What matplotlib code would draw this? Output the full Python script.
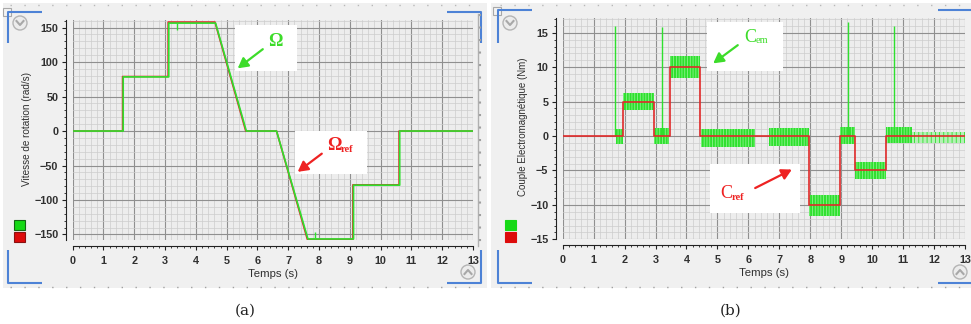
import matplotlib
matplotlib.use('Agg')
import matplotlib.pyplot as plt
from matplotlib.patches import Rectangle, Circle, FancyArrowPatch
from matplotlib.ticker import MultipleLocator

# ---------------- data ----------------
time_ticks = list(range(0, 14))
omega_yticks = [-150, -100, -50, 0, 50, 100, 150]
torque_yticks = [-15, -10, -5, 0, 5, 10, 15]

# Panel (a): speed reference and measured speed (breakpoints)
omega_ref_t = [0, 1.62, 1.62, 3.10, 3.10, 4.62, 5.62, 6.62, 7.62, 9.10, 9.10, 10.60, 10.60, 13.0]
omega_ref_v = [0, 0, 79, 79, 158, 158, 0, 0, -157, -157, -78, -78, 0, 0]
omega_meas_t = [0, 1.64, 1.64, 3.12, 3.12, 4.64, 5.64, 6.62, 7.64, 9.12, 9.12, 10.62, 10.62, 13.0]
omega_meas_v = [0, 0, 78.5, 78.5, 156.5, 156.5, 0, 0, -156.5, -156.5, -78.5, -78.5, 0, 0]
omega_spike_t = [3.38, 7.87]
omega_spike_from = [156.5, -156.5]
omega_spike_to = [146, -146]

# Panel (b): torque reference (steps) and electromagnetic torque (ripple bands)
cref_t = [0, 1.95, 2.95, 3.47, 4.45, 7.96, 8.96, 9.45, 10.45, 13.0]
cref_v = [0, 5, 0, 10, 0, -10, 0, -5, 0, 0]
cem_start = [1.72, 1.95, 2.95, 3.47, 4.47, 6.68, 7.96, 8.96, 9.45, 10.45]
cem_end = [1.95, 2.95, 3.45, 4.45, 6.22, 7.96, 8.96, 9.45, 10.45, 11.3]
cem_low = [-1.15, 3.8, -1.2, 8.5, -1.55, -1.5, -11.6, -1.15, -6.3, -1.0]
cem_high = [1.0, 6.2, 1.1, 11.6, 1.0, 1.1, -8.6, 1.35, -3.7, 1.35]
cem_tail_start, cem_tail_end = 11.3, 13.0
cem_tail_low, cem_tail_high = -1.0, 0.6
cem_spike_t = [1.70, 3.20, 9.21, 10.72]
cem_spike_top = [16.0, 15.9, 16.6, 16.0]

# ---------------- figure ----------------
W, H = 971, 324
plt.rcParams['font.family'] = ['Liberation Sans', 'DejaVu Sans']
plt.rcParams['hatch.linewidth'] = 0.6
fig = plt.figure(figsize=(W / 100, H / 100), dpi=100)
fig.patch.set_facecolor('white')

GREEN = '#2ee02e'
RED = '#e02a2a'
BLUE = '#4d82d6'
TXT = '#303030'


def rect(x0, y0, x1, y1):
    return [x0 / W, 1 - y1 / H, (x1 - x0) / W, (y1 - y0) / H]


# background layer
bg = fig.add_axes([0, 0, 1, 1], zorder=0)
bg.set_xlim(0, W)
bg.set_ylim(H, 0)
bg.axis('off')
bg.add_patch(Rectangle((3, 3), 484, 285, fc='#f0f0f0', ec='none'))
bg.add_patch(Rectangle((491, 3), 480, 285, fc='#f0f0f0', ec='none'))


def style_axes(ax, xlim, ylim, ymaj, ymin):
    ax.set_facecolor('#ededed')
    ax.set_xlim(*xlim)
    ax.set_ylim(*ylim)
    ax.set_xticks(time_ticks)
    ax.xaxis.set_minor_locator(MultipleLocator(0.2))
    ax.yaxis.set_major_locator(MultipleLocator(ymaj))
    ax.yaxis.set_minor_locator(MultipleLocator(ymin))
    ax.grid(which='major', color='#8f8f8f', lw=0.8)
    ax.grid(which='minor', color='#cdcdcd', lw=0.5)
    ax.set_axisbelow(True)
    for s in ['top', 'right']:
        ax.spines[s].set_visible(False)
    ax.spines['left'].set_position(('outward', 4.6))
    ax.spines['bottom'].set_position(('outward', 4.2))
    ax.spines['left'].set_color('#222222')
    ax.spines['bottom'].set_color('#222222')
    ax.tick_params(which='major', length=3.2, width=0.8, color='#222222',
                   labelsize=8.5, labelcolor=TXT, pad=2.5)
    ax.tick_params(which='minor', length=1.6, width=0.6, color='#222222')
    ax.tick_params(axis='x', which='major', pad=4)
    for lab in ax.get_xticklabels() + ax.get_yticklabels():
        lab.set_fontweight('bold')
        lab.set_fontsize(7.8)


# ---------------- panel (a) ----------------
axa = fig.add_axes(rect(72.7, 20, 473, 240), zorder=1)
axa.set_yticks(omega_yticks)
style_axes(axa, (0, 13), (-158, 161), 50, 10)
axa.plot(omega_ref_t, omega_ref_v, color=RED, lw=1.2, zorder=3)
axa.plot(omega_meas_t, omega_meas_v, color=GREEN, lw=1.2, zorder=4)
axa.vlines(omega_spike_t, omega_spike_from, omega_spike_to, color=GREEN, lw=1.0, zorder=4)

# ---------------- panel (b) ----------------
axb = fig.add_axes(rect(562.7, 18.3, 965, 239.3), zorder=1)
axb.set_yticks(torque_yticks)
style_axes(axb, (0, 13), (-15, 17.1), 5, 1)
for s, e, lo, hi in zip(cem_start, cem_end, cem_low, cem_high):
    axb.fill_between([s, e], [lo, lo], [hi, hi], facecolor=GREEN,
                     edgecolor='#8cf28c', hatch='||||||', lw=0, zorder=3)
axb.fill_between([cem_tail_start, cem_tail_end], [cem_tail_low] * 2, [cem_tail_high] * 2,
                 facecolor='#b5f0b5', edgecolor=GREEN, hatch='||||', lw=0, zorder=3)
axb.vlines(cem_spike_t, 0, cem_spike_top, color=GREEN, lw=1.0, zorder=4)
axb.step(cref_t, cref_v, where='post', color=RED, lw=1.2, zorder=5)

# ---------------- labels ----------------
fig.text(27 / W, 1 - 129 / H, 'Vitesse de rotation (rad/s)', rotation=90,
         ha='center', va='center', fontsize=7.2, color=TXT)
fig.text(273 / W, 1 - 274 / H, 'Temps (s)', ha='center', va='center',
         fontsize=8.2, color=TXT)
fig.text(523 / W, 1 - 127 / H, 'Couple Electromagnétique (Nm)', rotation=90,
         ha='center', va='center', fontsize=7.0, color=TXT)
fig.text(764 / W, 1 - 273 / H, 'Temps (s)', ha='center', va='center',
         fontsize=8.2, color=TXT)
fig.text(245 / W, 1 - 311 / H, '(a)', ha='center', va='center',
         fontsize=11, family='DejaVu Serif', color='#222222')
fig.text(731 / W, 1 - 311 / H, '(b)', ha='center', va='center',
         fontsize=11, family='DejaVu Serif', color='#222222')

# ---------------- overlay decorations ----------------
ov = fig.add_axes([0, 0, 1, 1], zorder=5)
ov.set_xlim(0, W)
ov.set_ylim(H, 0)
ov.axis('off')
ov.patch.set_alpha(0)

# annotation boxes
for (x0, y0, x1, y1) in [(235, 25, 297, 71), (295, 131, 367, 174),
                         (707, 22, 783, 71), (710, 164, 800, 213)]:
    ov.add_patch(Rectangle((x0, y0), x1 - x0, y1 - y0, fc='white', ec='none'))

serif = ['Liberation Serif', 'DejaVu Serif']
ov.text(275, 41, 'Ω', color='#3ddc2a', fontsize=13, fontweight='bold', family=serif,
        ha='center', va='center')
ov.text(334.5, 146, 'Ω', color='#ee2222', fontsize=13, fontweight='bold', family=serif,
        ha='center', va='center')
ov.text(341, 152, 'ref', color='#ee2222', fontsize=7.5, fontweight='bold', family=serif,
        ha='left', va='baseline')
ov.text(750, 38, 'C', color='#3ddc2a', fontsize=13, family=serif, ha='center', va='center')
ov.text(756, 43, 'em', color='#3ddc2a', fontsize=7.5, family=serif, ha='left', va='baseline')
ov.text(726, 194, 'C', color='#ee2222', fontsize=13, family=serif, ha='center', va='center')
ov.text(732, 200, 'ref', color='#ee2222', fontsize=7.5, fontweight='bold', family=serif,
        ha='left', va='baseline')

for (p0, p1, c) in [((265, 47.5), (235.5, 70), '#3ddc2a'),
                    ((324, 152), (295.5, 173.5), '#ee2222'),
                    ((740, 43.5), (711, 65), '#3ddc2a'),
                    ((752.7, 189.3), (794.3, 168.3), '#ee2222')]:
    ov.add_patch(FancyArrowPatch(p0, p1, arrowstyle='-|>,head_length=4,head_width=2.2',
                                 color=c, lw=1.6, mutation_scale=1.5))

# legend swatches
for (x0, y0, fc, ec) in [(14, 220, '#16d916', '#146614'), (14, 232, '#dd0b0b', '#8a1010'),
                         (505, 220, '#16d916', '#16d916'), (505, 232, '#dd0b0b', '#dd0b0b')]:
    ov.add_patch(Rectangle((x0, y0), 11, 10, fc=fc, ec=ec, lw=0.8))

# blue corner brackets
brackets = [
    [(8, 43), (8, 12), (42, 12)], [(447, 12), (481, 12), (481, 43)],
    [(8, 250), (8, 283), (42, 283)], [(447, 283), (481, 283), (481, 250)],
    [(498, 43), (498, 10), (532, 10)], [(938, 10), (971, 10)],
    [(498, 250), (498, 283), (532, 283)], [(938, 283), (971, 283)],
]
for pts in brackets:
    ov.plot([p[0] for p in pts], [p[1] for p in pts], color=BLUE, lw=1.5,
            solid_capstyle='butt')

# small grey squares in the top-left corners
for x0, y0 in [(3, 8), (493, 7)]:
    ov.add_patch(Rectangle((x0, y0), 8, 8, fc='#f4f4f4', ec='#a8a8a8', lw=0.8))

# round scroll buttons
for cx, cy, up in [(20, 23, False), (468, 272, True), (510, 23, False), (960, 272, True)]:
    ov.add_patch(Circle((cx, cy), 7, fc='#ececec', ec='#b4b4b4', lw=1.0))
    d = -2 if up else 2
    ov.plot([cx - 3.5, cx, cx + 3.5], [cy - d, cy + d, cy - d], color='#a8a8a8', lw=1.5)

# dotted rulers
for x0, x1 in [(10, 480), (500, 971)]:
    ov.plot([x0, x1], [5, 5], color='#b8b8b8', lw=1, ls=(0, (1, 9)))
    ov.plot([x0, x1], [287, 287], color='#a0a0a0', lw=1, ls=(0, (1, 9)))
ov.plot([478, 478], [14, 246], color='#b0b0b0', lw=1)
ov.plot([480, 480], [14, 246], color='#a0a0a0', lw=1.5, ls=(0, (1, 5)))

fig.savefig('out.png', dpi=100, facecolor='white')
